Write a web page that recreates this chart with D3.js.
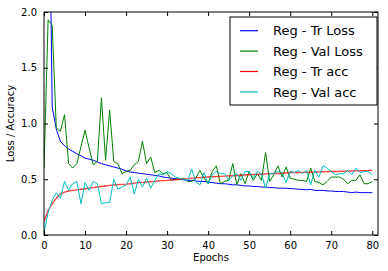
<!DOCTYPE html>
<html>
<head>
<meta charset="utf-8">
<script src="https://cdn.jsdelivr.net/npm/d3@7"></script>
<style>
  body { margin: 0; background: #fff; }
  text { font-family: "DejaVu Sans", sans-serif; }
</style>
</head>
<body>
<div id="chart"></div>
<script>
// values, one per epoch (0..80)
const trLoss = [6.0, 4.0, 1.15, 0.95, 0.84, 0.80, 0.77, 0.75, 0.73, 0.71, 0.69, 0.68, 0.67, 0.655, 0.64, 0.63, 0.62, 0.61, 0.60, 0.59, 0.575,
  0.565, 0.56, 0.555, 0.55, 0.545, 0.54, 0.535, 0.53, 0.52, 0.515, 0.51, 0.505, 0.50, 0.495, 0.49, 0.49, 0.485, 0.48, 0.48, 0.475,
  0.47, 0.465, 0.46, 0.46, 0.455, 0.45, 0.45, 0.445, 0.44, 0.44, 0.435, 0.435, 0.43, 0.43, 0.425, 0.425, 0.42, 0.42, 0.42, 0.415,
  0.415, 0.41, 0.41, 0.405, 0.41, 0.40, 0.40, 0.40, 0.395, 0.395, 0.39, 0.39, 0.39, 0.385, 0.38, 0.385, 0.38, 0.38, 0.38, 0.38];
const valLoss = [0.6, 1.93, 1.88, 0.96, 0.93, 1.08, 0.64, 0.60, 0.64, 0.79, 0.94, 0.78, 0.63, 0.66, 1.23, 0.67, 1.12, 0.66, 0.64, 0.55, 0.57,
  0.58, 0.63, 0.66, 0.84, 0.64, 0.70, 0.56, 0.58, 0.55, 0.56, 0.49, 0.50, 0.50, 0.51, 0.48, 0.48, 0.51, 0.58, 0.51, 0.46,
  0.57, 0.62, 0.46, 0.48, 0.49, 0.64, 0.45, 0.55, 0.46, 0.57, 0.49, 0.55, 0.49, 0.74, 0.48, 0.54, 0.62, 0.52, 0.61, 0.51,
  0.50, 0.49, 0.49, 0.48, 0.60, 0.48, 0.47, 0.45, 0.48, 0.52, 0.52, 0.52, 0.50, 0.46, 0.49, 0.49, 0.54, 0.46, 0.46, 0.48];
const trAcc = [0.12, 0.22, 0.28, 0.33, 0.37, 0.385, 0.395, 0.40, 0.405, 0.41, 0.415, 0.42, 0.425, 0.43, 0.435, 0.44, 0.445, 0.448, 0.452, 0.454, 0.456,
  0.46, 0.465, 0.47, 0.472, 0.475, 0.478, 0.48, 0.485, 0.488, 0.49, 0.493, 0.496, 0.50, 0.503, 0.506, 0.51, 0.512, 0.515, 0.518, 0.52,
  0.522, 0.524, 0.526, 0.528, 0.53, 0.532, 0.534, 0.536, 0.538, 0.54, 0.542, 0.544, 0.546, 0.548, 0.55, 0.551, 0.552, 0.554, 0.556, 0.558,
  0.56, 0.561, 0.562, 0.563, 0.564, 0.565, 0.566, 0.567, 0.568, 0.569, 0.57, 0.571, 0.572, 0.573, 0.574, 0.575, 0.576, 0.577, 0.578, 0.58];
const valAcc = [0.02, 0.20, 0.31, 0.38, 0.33, 0.48, 0.40, 0.46, 0.48, 0.28, 0.47, 0.40, 0.48, 0.46, 0.28, 0.29, 0.29, 0.50, 0.41, 0.43, 0.45,
  0.52, 0.37, 0.50, 0.43, 0.51, 0.42, 0.49, 0.55, 0.54, 0.57, 0.55, 0.52, 0.51, 0.50, 0.49, 0.59, 0.48, 0.45, 0.56, 0.46,
  0.54, 0.57, 0.55, 0.55, 0.49, 0.53, 0.55, 0.49, 0.57, 0.57, 0.51, 0.57, 0.55, 0.42, 0.55, 0.55, 0.57, 0.56, 0.47, 0.57,
  0.56, 0.58, 0.55, 0.58, 0.45, 0.58, 0.52, 0.62, 0.60, 0.57, 0.54, 0.55, 0.55, 0.58, 0.54, 0.60, 0.56, 0.57, 0.57, 0.54];
const seriesNames = ["Reg - Tr Loss", "Reg - Val Loss", "Reg - Tr acc", "Reg - Val acc"];
const xTicks = [0, 10, 20, 30, 40, 50, 60, 70, 80];
const yTicks = [0.0, 0.5, 1.0, 1.5, 2.0];

const W = 388, H = 271;
const margin = {top: 12, right: 10, bottom: 36, left: 44};
const width = W - margin.left - margin.right,
  height = H - margin.top - margin.bottom;

const svg = d3.select("#chart").append("svg")
  .attr("width", W).attr("height", H)
.append("g")
  .attr("transform", `translate(${margin.left},${margin.top})`);

const x = d3.scaleLinear().domain([0, 81.4]).range([0, width]);
const y = d3.scaleLinear().domain([0, 2]).range([height, 0]);

svg.append("clipPath").attr("id", "clip")
  .append("rect").attr("width", width).attr("height", height);

const series = [
  {name: seriesNames[0], values: trLoss, color: "#0000ff", w: 1, op: 1},
  {name: seriesNames[1], values: valLoss, color: "#008000", w: 1, op: 1},
  {name: seriesNames[2], values: trAcc, color: "#ff0000", w: 1.4, op: 0.75},
  {name: seriesNames[3], values: valAcc, color: "#00bfbf", w: 1, op: 1}
];

const line = d3.line().x((d, i) => x(i)).y(d => y(d));

svg.append("g").attr("clip-path", "url(#clip)")
  .selectAll("path")
  .data(series)
  .join("path")
    .attr("d", d => line(d.values))
    .attr("fill", "none")
    .attr("stroke", d => d.color)
    .attr("stroke-width", d => d.w)
    .attr("stroke-opacity", d => d.op);

// axes, matplotlib classic: ticks inside on all four sides
function styleAxis(g) {
  g.select(".domain").remove();
  g.selectAll("text").attr("font-size", 10).attr("fill", "#000");
  g.selectAll("line").attr("stroke", "#000");
}
svg.append("g").attr("transform", `translate(0,${height})`)
  .call(d3.axisBottom(x).tickValues(xTicks).tickSizeInner(-4).tickSizeOuter(0).tickPadding(7).tickFormat(d3.format("d")))
  .call(styleAxis);
svg.append("g")
  .call(d3.axisTop(x).tickValues(xTicks).tickSizeInner(-4).tickSizeOuter(0).tickFormat(""))
  .call(styleAxis);
svg.append("g")
  .call(d3.axisLeft(y).tickValues(yTicks).tickSizeInner(-4).tickSizeOuter(0).tickPadding(7).tickFormat(d3.format(".1f")))
  .call(styleAxis);
svg.append("g").attr("transform", `translate(${width},0)`)
  .call(d3.axisRight(y).tickValues(yTicks).tickSizeInner(-4).tickSizeOuter(0).tickFormat(""))
  .call(styleAxis);

svg.append("rect")
  .attr("width", width).attr("height", height)
  .attr("fill", "none").attr("stroke", "#000").attr("stroke-width", 1);

svg.append("text")
  .attr("x", width / 2).attr("y", height + 25.5)
  .attr("text-anchor", "middle").attr("font-size", 10)
  .text("Epochs");
svg.append("text")
  .attr("transform", `translate(${14 - margin.left},${height / 2}) rotate(-90)`)
  .attr("text-anchor", "middle").attr("font-size", 10)
  .text("Loss / Accuracy");

// legend
const legend = svg.append("g").attr("transform", `translate(${230 - margin.left},${17 - margin.top})`);
legend.append("rect")
  .attr("width", 147).attr("height", 88)
  .attr("fill", "#fff").attr("stroke", "#000").attr("stroke-width", 1);
const item = legend.selectAll("g.item")
  .data(series)
  .join("g")
    .attr("class", "item")
    .attr("transform", (d, i) => `translate(0,${13.7 + i * 20.4})`);
item.append("line")
  .attr("x1", 10).attr("x2", 28)
  .attr("stroke", d => d.color).attr("stroke-width", 1.2);
item.append("text")
  .attr("x", 43).attr("y", 4.6)
  .attr("font-size", 13)
  .text(d => d.name);
</script>
</body>
</html>
